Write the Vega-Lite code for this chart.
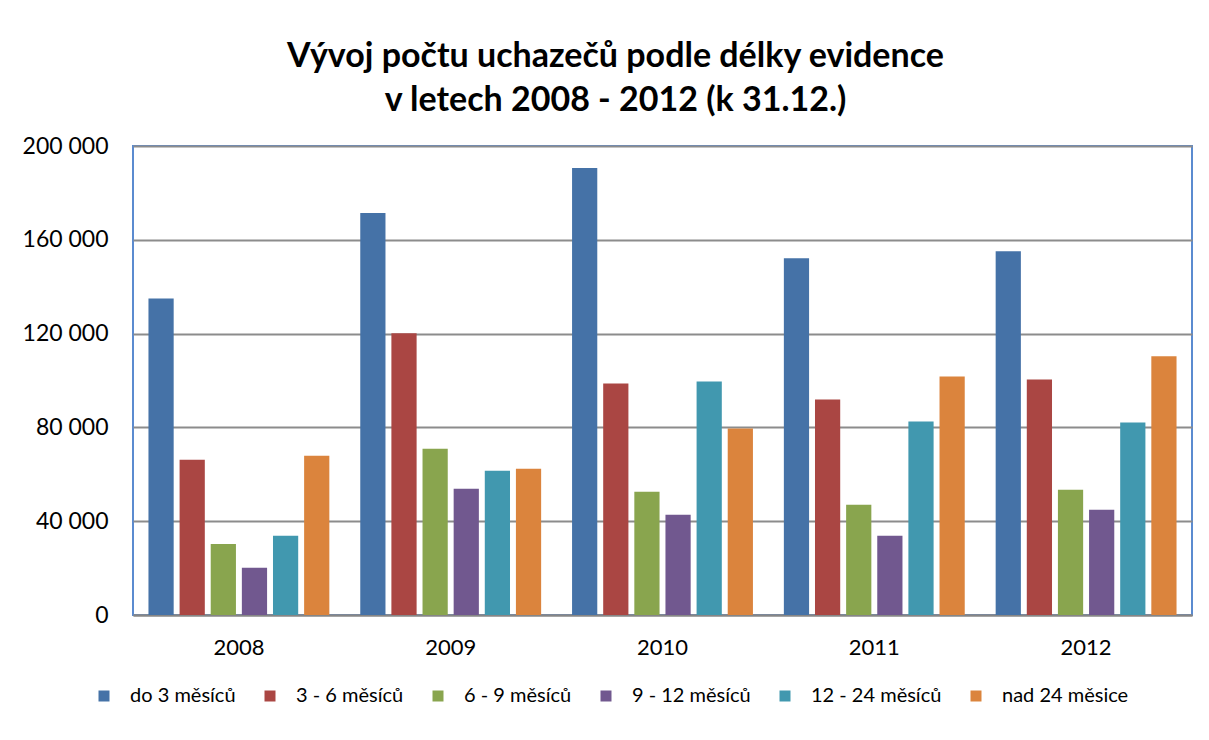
{
  "$schema": "https://vega.github.io/schema/vega-lite/v6.json",
  "width": 1059,
  "height": 469,
  "autosize": {"type": "none"},
  "padding": {"left": 133, "top": 146, "right": 17, "bottom": 125},
  "background": "white",
  "title": {
    "text": ["Vývoj počtu uchazečů podle délky evidence", "v letech 2008 - 2012 (k 31.12.)"],
    "fontSize": 34,
    "fontWeight": "bold",
    "font": "Lato",
    "color": "black",
    "lineHeight": 44,
    "anchor": "middle",
    "frame": "group",
    "dx": -47,
    "offset": 17
  },
  "config": {
    "locale": {"number": {"decimal": ",", "thousands": " ", "grouping": [3], "currency": ["", " Kč"]}},
    "view": {"stroke": "#5b8bd0", "strokeWidth": 2},
    "font": "Lato"
  },
  "data": {
    "values": [
      {"year": "2008", "cat": "do 3 měsíců", "value": 135000},
      {"year": "2008", "cat": "3 - 6 měsíců", "value": 66200},
      {"year": "2008", "cat": "6 - 9 měsíců", "value": 30300},
      {"year": "2008", "cat": "9 - 12 měsíců", "value": 20100},
      {"year": "2008", "cat": "12 - 24 měsíců", "value": 33800},
      {"year": "2008", "cat": "nad 24 měsice", "value": 67900},
      {"year": "2009", "cat": "do 3 měsíců", "value": 171400},
      {"year": "2009", "cat": "3 - 6 měsíců", "value": 120100},
      {"year": "2009", "cat": "6 - 9 měsíců", "value": 70900},
      {"year": "2009", "cat": "9 - 12 měsíců", "value": 53800},
      {"year": "2009", "cat": "12 - 24 měsíců", "value": 61500},
      {"year": "2009", "cat": "nad 24 měsice", "value": 62400},
      {"year": "2010", "cat": "do 3 měsíců", "value": 190600},
      {"year": "2010", "cat": "3 - 6 měsíců", "value": 98700},
      {"year": "2010", "cat": "6 - 9 měsíců", "value": 52600},
      {"year": "2010", "cat": "9 - 12 měsíců", "value": 42700},
      {"year": "2010", "cat": "12 - 24 měsíců", "value": 99600},
      {"year": "2010", "cat": "nad 24 měsice", "value": 79500},
      {"year": "2011", "cat": "do 3 měsíců", "value": 152100},
      {"year": "2011", "cat": "3 - 6 měsíců", "value": 91900},
      {"year": "2011", "cat": "6 - 9 měsíců", "value": 47000},
      {"year": "2011", "cat": "9 - 12 měsíců", "value": 33800},
      {"year": "2011", "cat": "12 - 24 měsíců", "value": 82500},
      {"year": "2011", "cat": "nad 24 měsice", "value": 101700},
      {"year": "2012", "cat": "do 3 měsíců", "value": 155100},
      {"year": "2012", "cat": "3 - 6 měsíců", "value": 100400},
      {"year": "2012", "cat": "6 - 9 měsíců", "value": 53400},
      {"year": "2012", "cat": "9 - 12 měsíců", "value": 44900},
      {"year": "2012", "cat": "12 - 24 měsíců", "value": 82100},
      {"year": "2012", "cat": "nad 24 měsice", "value": 110300}
    ]
  },
  "mark": {"type": "bar"},
  "encoding": {
    "x": {
      "field": "year",
      "type": "nominal",
      "scale": {"paddingInner": 0.146, "paddingOuter": 0.073},
      "axis": {
        "title": null,
        "labelAngle": 0,
        "labelFontSize": 22,
        "labelColor": "black",
        "labelPadding": 22,
        "ticks": false,
        "domainColor": "#868686",
        "domainWidth": 2
      }
    },
    "xOffset": {
      "field": "cat",
      "type": "nominal",
      "sort": ["do 3 měsíců", "3 - 6 měsíců", "6 - 9 měsíců", "9 - 12 měsíců", "12 - 24 měsíců", "nad 24 měsice"],
      "scale": {"paddingInner": 0.19, "paddingOuter": 0}
    },
    "y": {
      "field": "value",
      "type": "quantitative",
      "scale": {"domain": [0, 200000], "nice": false},
      "axis": {
        "title": null,
        "values": [0, 40000, 80000, 120000, 160000, 200000],
        "format": ",d",
        "labelFontSize": 23,
        "labelColor": "black",
        "labelPadding": 25,
        "ticks": false,
        "domain": false,
        "gridColor": "#8c8c8c",
        "gridWidth": 2
      }
    },
    "color": {
      "field": "cat",
      "type": "nominal",
      "scale": {
        "domain": ["do 3 měsíců", "3 - 6 měsíců", "6 - 9 měsíců", "9 - 12 měsíců", "12 - 24 měsíců", "nad 24 měsice"],
        "range": ["#4572a7", "#aa4643", "#89a54e", "#71588f", "#4198af", "#db843d"]
      },
      "legend": {
        "title": null,
        "orient": "none",
        "legendX": -39,
        "legendY": 540,
        "direction": "horizontal",
        "columns": 6,
        "symbolType": "square",
        "symbolSize": 121,
        "symbolStrokeWidth": 0,
        "labelFontSize": 20,
        "labelFontWeight": "normal",
        "labelColor": "black",
        "labelOffset": 16,
        "columnPadding": 24,
        "gridAlign": "each"
      }
    }
  }
}
